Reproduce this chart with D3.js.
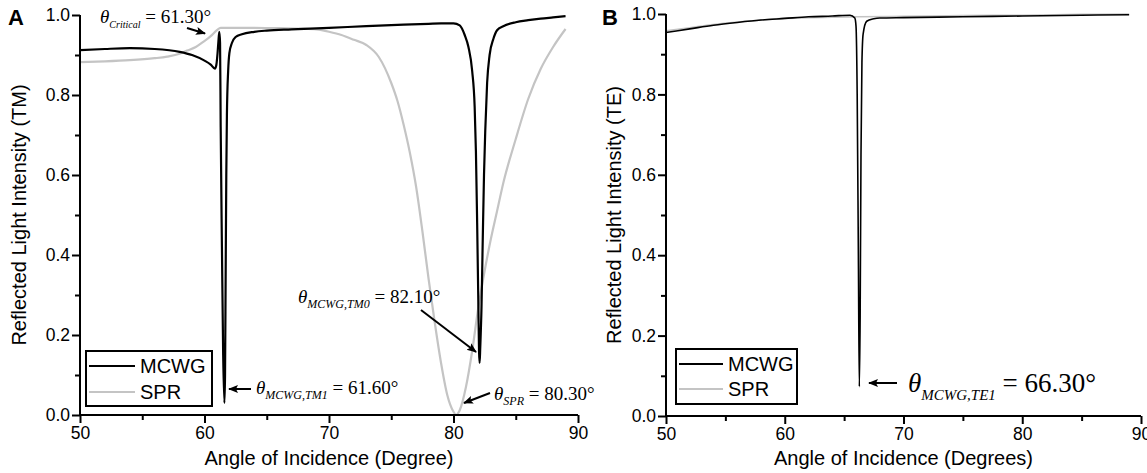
<!DOCTYPE html>
<html><head><meta charset="utf-8">
<script src="https://cdn.jsdelivr.net/npm/d3@7"></script>
<style>body{margin:0;background:#fff}svg{display:block}</style>
</head><body><svg id="c" width="1147" height="473"></svg>
<script>
// ---------- data ----------
const xTicks = [50, 60, 70, 80, 90];
const xMinorTicks = [55, 65, 75, 85];
const yTicks = [0, 0.2, 0.4, 0.6, 0.8, 1.0];
const yMinorTicks = [0.1, 0.3, 0.5, 0.7, 0.9];
const seriesNames = ["MCWG", "SPR"];

const anglesA_MCWG = [50, 52, 54, 56, 58, 59, 60, 60.5, 60.84, 60.95, 61.05, 61.12, 61.19, 61.25, 61.3, 61.4, 61.5, 61.6, 61.65, 61.7, 61.75, 61.8, 61.9, 62.0, 62.2, 62.5, 63, 64, 65, 67, 70, 73, 76, 78, 79, 80, 80.5, 80.9, 81.2, 81.5, 81.7, 81.8, 81.9, 82.0, 82.05, 82.1, 82.15, 82.25, 82.35, 82.45, 82.55, 82.7, 82.9, 83.2, 83.5, 84, 85, 86, 87, 88, 89];
const valuesA_MCWG = [0.912, 0.915, 0.917, 0.915, 0.908, 0.900, 0.886, 0.876, 0.866, 0.875, 0.905, 0.935, 0.958, 0.93, 0.72, 0.42, 0.15, 0.03, 0.1, 0.35, 0.6, 0.75, 0.86, 0.905, 0.93, 0.945, 0.952, 0.958, 0.961, 0.964, 0.968, 0.972, 0.976, 0.978, 0.979, 0.979, 0.974, 0.95, 0.92, 0.86, 0.77, 0.66, 0.48, 0.27, 0.16, 0.13, 0.17, 0.27, 0.44, 0.6, 0.71, 0.83, 0.9, 0.94, 0.962, 0.972, 0.982, 0.987, 0.991, 0.994, 0.997];

const anglesA_SPR = [50, 52, 54, 56, 57, 58, 58.6, 59.3, 59.9, 60.5, 61.0, 61.3, 62, 64, 66, 68, 69, 70, 71, 72, 73, 74, 75, 75.5, 76, 76.5, 77, 77.5, 78, 78.5, 79, 79.5, 80, 80.2, 80.5, 81, 81.5, 82, 82.5, 83, 83.5, 84, 85, 86, 87, 88, 89];
const valuesA_SPR = [0.882, 0.884, 0.887, 0.892, 0.896, 0.903, 0.911, 0.920, 0.933, 0.947, 0.962, 0.968, 0.968, 0.968, 0.967, 0.966, 0.964, 0.958, 0.950, 0.938, 0.925, 0.895, 0.83, 0.785, 0.725, 0.655, 0.57, 0.46, 0.34, 0.23, 0.13, 0.05, 0.008, 0.0, 0.012, 0.07, 0.16, 0.27, 0.36, 0.44, 0.51, 0.58, 0.69, 0.79, 0.865, 0.92, 0.965];

const anglesB_MCWG = [50, 52, 54, 56, 58, 60, 62, 64, 65.5, 65.9, 66.0, 66.1, 66.2, 66.28, 66.35, 66.42, 66.5, 66.6, 66.9, 67.5, 68, 70, 75, 80, 85, 89];
const valuesB_MCWG = [0.954, 0.963, 0.972, 0.979, 0.985, 0.989, 0.993, 0.995, 0.997, 0.99, 0.97, 0.8, 0.4, 0.073, 0.25, 0.65, 0.88, 0.95, 0.982, 0.988, 0.99, 0.991, 0.993, 0.995, 0.997, 0.998];

const anglesB_SPR = [50, 52, 54, 56, 58, 60, 62, 64, 66, 70, 75, 80, 85, 89];
const valuesB_SPR = [0.958, 0.966, 0.974, 0.98, 0.985, 0.989, 0.991, 0.992, 0.993, 0.994, 0.996, 0.997, 0.999, 1.0];

// ---------- drawing ----------
const svg = d3.select("#c");
const SANS = "'Liberation Sans', Arial, sans-serif";
const SERIF = "'Liberation Serif', 'Times New Roman', serif";
const BLACK = "#000", GRAY = "#c4c4c4";

svg.append("defs").append("marker")
  .attr("id", "ah").attr("viewBox", "0 0 10 10").attr("refX", 9).attr("refY", 5)
  .attr("markerWidth", 10).attr("markerHeight", 10).attr("markerUnits", "userSpaceOnUse")
  .attr("orient", "auto")
  .append("path").attr("d", "M0,1 L10,5 L0,9 L2,5 Z").attr("fill", "#000");

function panel(cfg) {
  const x = d3.scaleLinear().domain([50, 90]).range(cfg.xr);
  const y = d3.scaleLinear().domain([0, 1]).range(cfg.yr);
  const g = svg.append("g");

  const line = d3.line().x(d => x(d[0])).y(d => y(d[1])).curve(d3.curveMonotoneX);
  g.append("path").datum(d3.zip(cfg.sprA, cfg.sprV))
    .attr("d", line).attr("fill", "none").attr("stroke", GRAY).attr("stroke-width", cfg.lw);
  g.append("path").datum(d3.zip(cfg.mA, cfg.mV))
    .attr("d", line).attr("fill", "none").attr("stroke", BLACK).attr("stroke-width", cfg.lw);

  // axes
  const xa = g.append("g").attr("transform", `translate(0,${cfg.yr[0]})`)
    .call(d3.axisBottom(x).tickValues(xTicks).tickSize(8).tickPadding(4).tickFormat(d3.format("d")));
  g.append("g").attr("transform", `translate(0,${cfg.yr[0]})`)
    .call(d3.axisBottom(x).tickValues(xMinorTicks).tickSize(5).tickFormat(""))
    .select(".domain").remove();
  const ya = g.append("g").attr("transform", `translate(${cfg.xr[0]},0)`)
    .call(d3.axisLeft(y).tickValues(yTicks).tickSize(8).tickPadding(2).tickFormat(d3.format(".1f")));
  g.append("g").attr("transform", `translate(${cfg.xr[0]},0)`)
    .call(d3.axisLeft(y).tickValues(yMinorTicks).tickSize(5).tickFormat(""))
    .select(".domain").remove();
  g.selectAll(".domain").attr("stroke-width", 2);
  g.selectAll(".tick line").attr("stroke-width", 2);
  g.selectAll(".tick text").attr("font-family", SANS).attr("font-size", 17.5).attr("fill", "#000");
  xa.select(".domain").attr("d", `M${cfg.xr[0]},0H${cfg.xr[1]}`);
  ya.select(".domain").attr("d", `M0,${cfg.yr[0]}V${cfg.yr[1]}`);

  // titles
  g.append("text").attr("x", (cfg.xr[0] + cfg.xr[1]) / 2 + cfg.xtDx).attr("y", 465)
    .attr("text-anchor", "middle").attr("font-family", SANS).attr("font-size", 20).text(cfg.xTitle);
  g.append("text").attr("transform", `translate(${cfg.ytX},${(cfg.yr[0] + cfg.yr[1]) / 2}) rotate(-90)`)
    .attr("text-anchor", "middle").attr("font-family", SANS).attr("font-size", 20).text(cfg.yTitle);
  g.append("text").attr("x", cfg.letterX).attr("y", 25).attr("font-family", SANS)
    .attr("font-weight", "bold").attr("font-size", 22).text(cfg.letter);

  // legend
  const L = cfg.leg;
  g.append("rect").attr("x", L.x).attr("y", L.y).attr("width", L.w).attr("height", L.h)
    .attr("fill", "#fff").attr("stroke", "#000").attr("stroke-width", 2);
  seriesNames.forEach((n, i) => {
    const yy = L.y + L.r0 + i * L.dr;
    g.append("line").attr("x1", L.x + 3).attr("x2", L.x + 3 + L.ll).attr("y1", yy).attr("y2", yy)
      .attr("stroke", i === 0 ? BLACK : GRAY).attr("stroke-width", 2);
    g.append("text").attr("x", L.x + 3 + L.ll + 5).attr("y", yy + 7).attr("font-family", SANS)
      .attr("font-size", 20).text(n);
  });
  return g;
}

function annot(g, x, y, sub, val, fs, sfs) {
  const t = g.append("text").attr("x", x).attr("y", y).attr("font-family", SERIF).attr("font-size", fs);
  t.append("tspan").attr("font-style", "italic").text("θ");
  t.append("tspan").attr("font-style", "italic").attr("font-size", sfs).attr("dy", fs * 0.28).text(sub);
  t.append("tspan").attr("dy", -fs * 0.28).text(" = " + val);
}
function arrow(g, x1, y1, x2, y2) {
  g.append("line").attr("x1", x1).attr("y1", y1).attr("x2", x2).attr("y2", y2)
    .attr("stroke", "#000").attr("stroke-width", 2).attr("marker-end", "url(#ah)");
}

const gA = panel({
  xr: [80, 578], yr: [415, 15], lw: 2.2,
  mA: anglesA_MCWG, mV: valuesA_MCWG, sprA: anglesA_SPR, sprV: valuesA_SPR,
  xTitle: "Angle of Incidence (Degree)", yTitle: "Reflected Light Intensity (TM)",
  xtDx: 0, ytX: 26, letter: "A", letterX: 8,
  leg: {x: 86, y: 351, w: 126, h: 55, r0: 15, dr: 26, ll: 46}
});
annot(gA, 100, 23, "Critical", "61.30°", 19, 10);
arrow(gA, 187, 28, 205, 33.5);
annot(gA, 256, 394, "MCWG,TM1", "61.60°", 19, 12);
arrow(gA, 251, 389, 229, 389);
annot(gA, 298, 303, "MCWG,TM0", "82.10°", 19, 12);
arrow(gA, 421, 310, 476, 352);
annot(gA, 494, 400, "SPR", "80.30°", 19, 12);
arrow(gA, 490, 393, 464, 403);

const gB = panel({
  xr: [666, 1141], yr: [416, 14], lw: 1.6,
  mA: anglesB_MCWG, mV: valuesB_MCWG, sprA: anglesB_SPR, sprV: valuesB_SPR,
  xTitle: "Angle of Incidence (Degrees)", yTitle: "Reflected Light Intensity (TE)",
  xtDx: 0, ytX: 621, letter: "B", letterX: 602,
  leg: {x: 676, y: 349, w: 121, h: 55, r0: 15, dr: 25, ll: 44}
});
annot(gB, 908, 392, "MCWG,TE1", "66.30°", 27, 15);
arrow(gB, 897, 383, 869, 383);
</script></body></html>
